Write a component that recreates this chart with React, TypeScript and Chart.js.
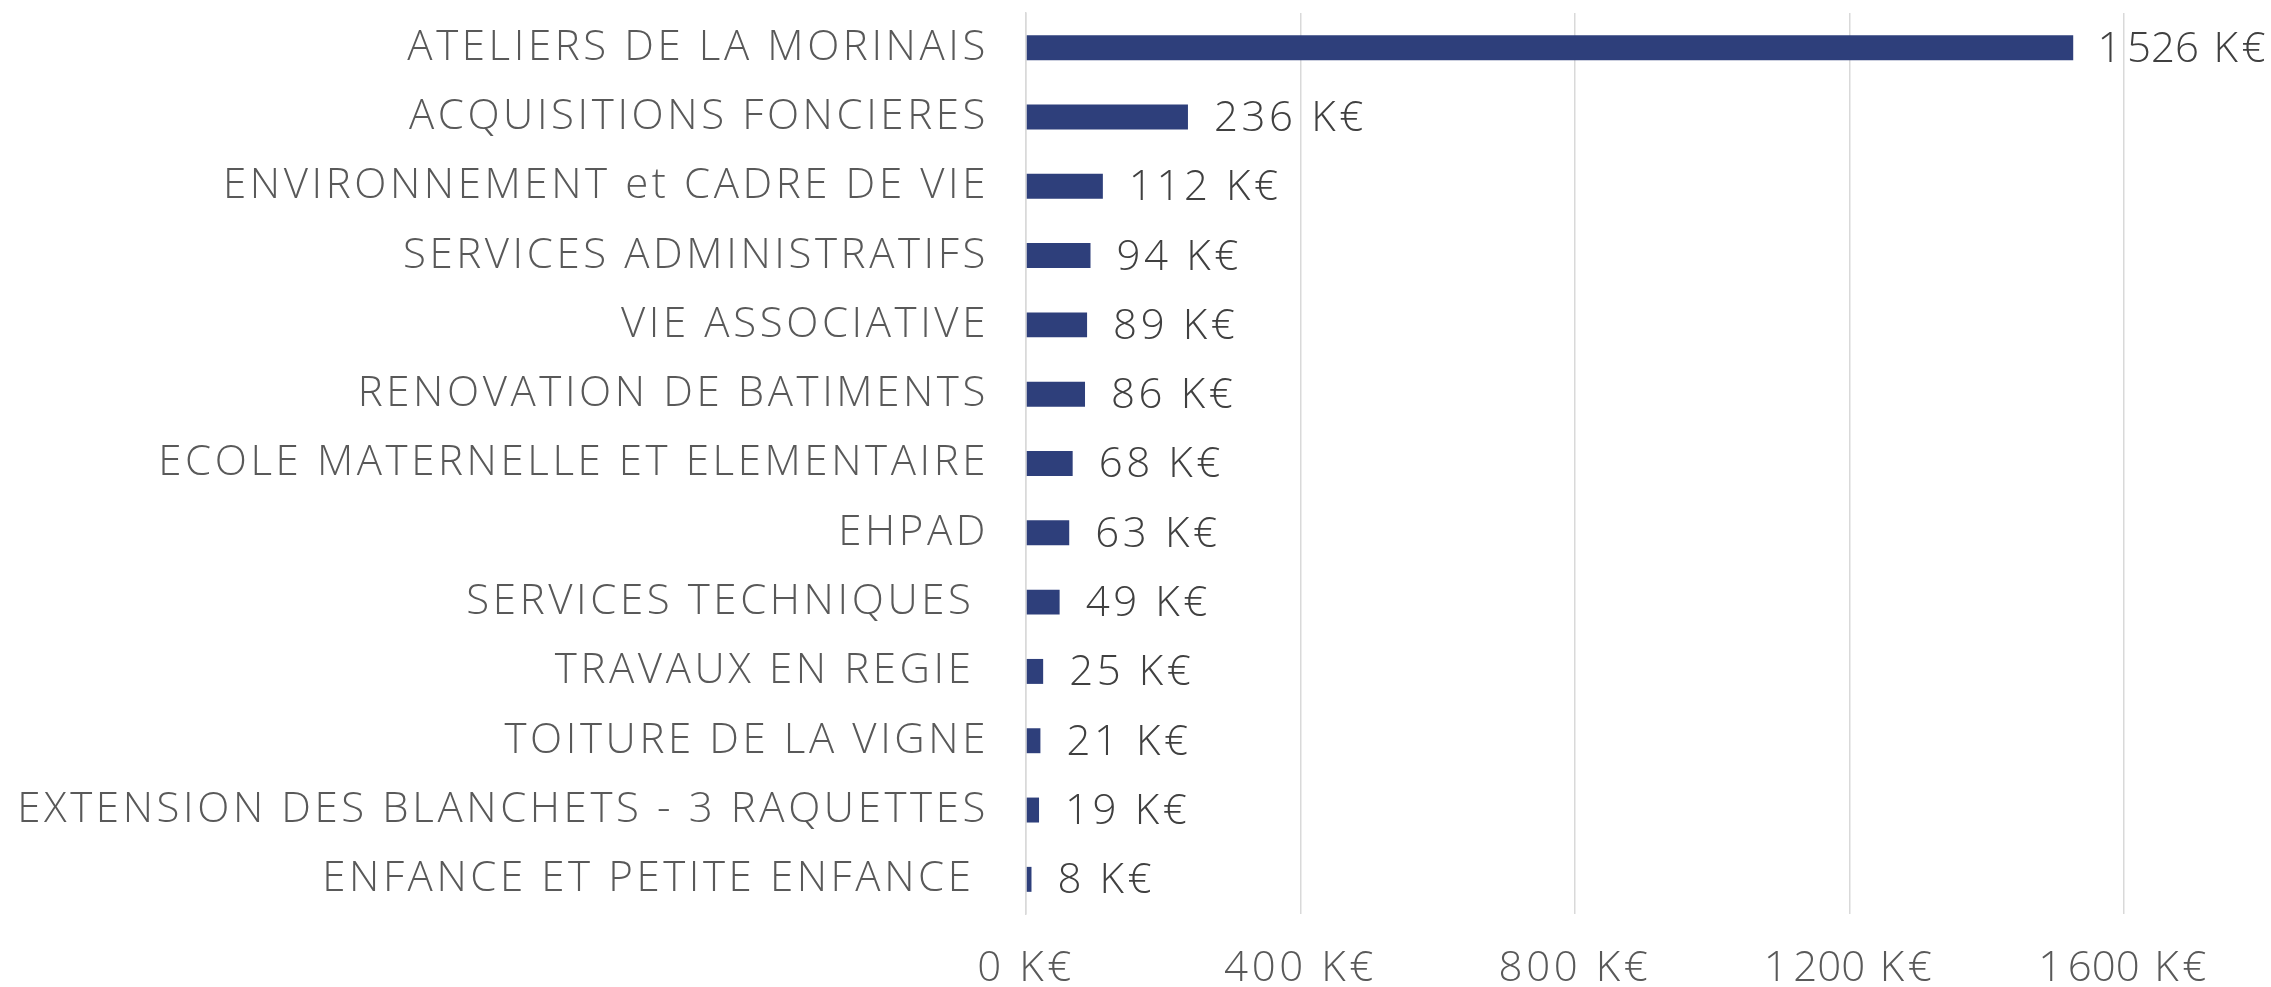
import React, { useEffect, useRef } from "react";
import { Chart, registerables } from "chart.js";

Chart.register(...registerables);

const categories = [
  "ATELIERS DE LA MORINAIS",
  "ACQUISITIONS FONCIERES",
  "ENVIRONNEMENT et CADRE DE VIE",
  "SERVICES ADMINISTRATIFS",
  "VIE ASSOCIATIVE",
  "RENOVATION DE BATIMENTS",
  "ECOLE MATERNELLE ET ELEMENTAIRE",
  "EHPAD",
  "SERVICES TECHNIQUES ",
  "TRAVAUX EN REGIE ",
  "TOITURE DE LA VIGNE",
  "EXTENSION DES BLANCHETS - 3 RAQUETTES",
  "ENFANCE ET PETITE ENFANCE ",
];

const values = [1526, 236, 112, 94, 89, 86, 68, 63, 49, 25, 21, 19, 8];

const axisMin = 0;
const axisMax = 1600;
const axisStep = 400;

const FONT_FAMILY = "'Open Sans', sans-serif";
const FONT_SIZE = 42;
const FONT_WEIGHT = "300";
const LETTER_SPACING = "3.6px";

const fmt = (v: number) => {
  const s = Math.round(v).toString();
  return s.replace(/\B(?=(\d{3})+(?!\d))/g, "\u202F") + " K€";
};

const spacingPlugin = {
  id: "letterSpacing",
  beforeUpdate(chart: any) {
    chart.ctx.letterSpacing = LETTER_SPACING;
  },
  beforeDraw(chart: any) {
    chart.ctx.letterSpacing = LETTER_SPACING;
  },
};

const valueLabelPlugin = {
  id: "valueLabels",
  afterDatasetsDraw(chart: any) {
    const { ctx } = chart;
    const meta = chart.getDatasetMeta(0);
    ctx.save();
    ctx.letterSpacing = LETTER_SPACING;
    ctx.font = `${FONT_WEIGHT} ${FONT_SIZE}px ${FONT_FAMILY}`;
    ctx.fillStyle = "#404040";
    ctx.textBaseline = "middle";
    ctx.textAlign = "left";
    meta.data.forEach((bar: any, i: number) => {
      const text = fmt(values[i]);
      const w = ctx.measureText(text).width;
      let x = bar.x + 26;
      const maxX = chart.width - 2 - w;
      if (x > maxX) x = maxX;
      ctx.fillText(text, x, bar.y + 2);
    });
    ctx.restore();
  },
};

export default function App() {
  const ref = useRef<HTMLCanvasElement | null>(null);
  useEffect(() => {
    if (!ref.current) return;
    const chart = new Chart(ref.current, {
      type: "bar",
      data: {
        labels: categories,
        datasets: [
          {
            data: values,
            backgroundColor: "#2E3F7B",
            borderWidth: 0,
            barPercentage: 0.36,
            categoryPercentage: 1,
          },
        ],
      },
      plugins: [spacingPlugin, valueLabelPlugin],
      options: {
        indexAxis: "y",
        animation: false,
        responsive: false,
        maintainAspectRatio: false,
        layout: { padding: { top: 13, right: 147, bottom: 0, left: 0 } },
        plugins: {
          legend: { display: false },
          tooltip: { enabled: false },
        },
        scales: {
          x: {
            min: axisMin,
            max: axisMax,
            grid: { color: "#D9D9D9", lineWidth: 1.5, drawTicks: false },
            border: { display: false },
            ticks: {
              stepSize: axisStep,
              padding: 30,
              color: "#595959",
              font: { family: FONT_FAMILY, size: FONT_SIZE, weight: FONT_WEIGHT as any },
              callback: (v: any) => fmt(Number(v)),
            },
            afterFit: (s: any) => {
              s.height = 73;
              s.paddingLeft = 0;
              s.paddingRight = 0;
            },
          },
          y: {
            grid: { display: false, drawTicks: false },
            border: { display: true, color: "#D9D9D9", width: 1.5 },
            ticks: {
              padding: 37,
              color: "#595959",
              autoSkip: false,
              font: { family: FONT_FAMILY, size: FONT_SIZE, weight: FONT_WEIGHT as any },
            },
            afterFit: (s: any) => {
              s.width = 1026;
              s.paddingTop = 0;
              s.paddingBottom = 0;
            },
          },
        },
      },
    });
    return () => chart.destroy();
  }, []);
  return (
    <div style={{ position: "fixed", left: 0, top: 0, width: 2271, height: 987, background: "#fff" }}>
      <canvas ref={ref} width={2271} height={987} style={{ width: 2271, height: 987 }} />
    </div>
  );
}
